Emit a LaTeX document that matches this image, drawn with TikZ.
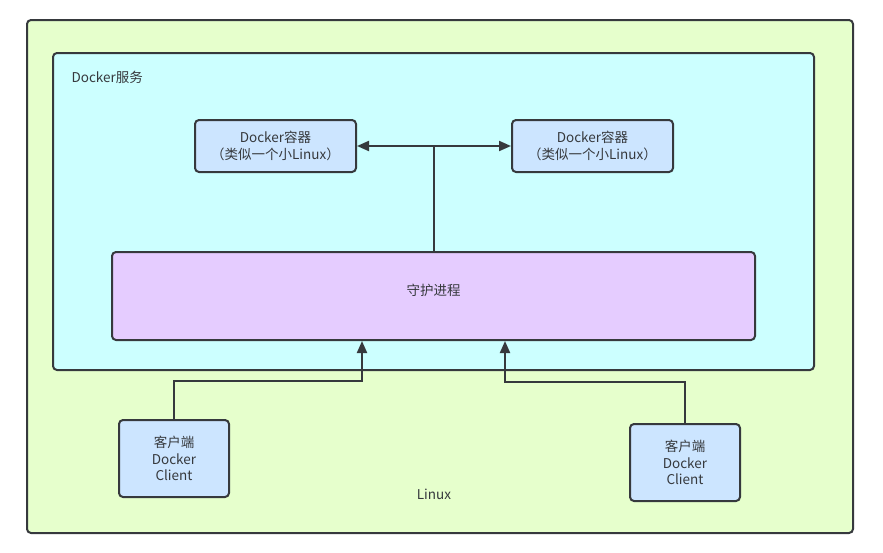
\documentclass[tikz,border=0pt]{standalone}
\usepackage{fontspec}
\setmainfont{Noto Sans CJK SC}
\usetikzlibrary{arrows.meta}

\definecolor{linuxbg}{HTML}{E6FFCC}
\definecolor{servicebg}{HTML}{CCFFFF}
\definecolor{boxbg}{HTML}{CCE5FF}
\definecolor{daemonbg}{HTML}{E5CCFF}
\definecolor{edge}{HTML}{36393D}

\begin{document}
\begin{tikzpicture}[
  x=1pt,y=-1pt,
  frame/.style={draw=edge,line width=2pt,rounded corners=4pt,inner sep=0pt},
  boxnode/.style={frame,fill=boxbg,align=center,font=\fontsize{13.5}{16.5}\selectfont,text=edge},
  label/.style={font=\fontsize{13.5}{16.5}\selectfont,text=edge},
  arr/.style={-{Triangle[length=12pt,width=10pt]},line width=2pt,draw=edge},
]
\useasboundingbox (0,0) rectangle (883,552);

% Linux host
\node[frame,fill=linuxbg,minimum width=826,minimum height=513] (linux) at (440,276.5) {};
\node[label] (linuxlbl) at (434,494) {Linux};

% Docker service
\node[frame,fill=servicebg,minimum width=761,minimum height=317] (service) at (433.5,211.5) {};
\node[label,anchor=west] (servicelbl) at (68,77) {Docker服务};

% Containers
\node[boxnode,minimum width=161,minimum height=52] (cont1) at (275.5,146)
  {Docker容器\\（类似一个小Linux）};
\node[boxnode,minimum width=161,minimum height=52] (cont2) at (592.5,146)
  {Docker容器\\（类似一个小Linux）};

% Daemon
\node[boxnode,fill=daemonbg,minimum width=643,minimum height=88] (daemon) at (433.5,296) {};
\node[label] (daemonlbl) at (433.5,290) {守护进程};

\draw[arr] (daemon.north) |- (cont1.east);
\draw[arr] (daemon.north) |- (cont2.west);

% Clients
\node[boxnode,minimum width=110,minimum height=77] (client1) at (174,458.5)
  {客户端\\Docker\\Client};
\node[boxnode,minimum width=110,minimum height=77] (client2) at (685,462.5)
  {客户端\\Docker\\Client};

\coordinate (bend1) at (362,381);
\coordinate (bend2) at (505,382);
\draw[arr] (client1.north) |- (bend1) -- (bend1 |- daemon.south);
\draw[arr] (client2.north) |- (bend2) -- (bend2 |- daemon.south);

\end{tikzpicture}
\end{document}
